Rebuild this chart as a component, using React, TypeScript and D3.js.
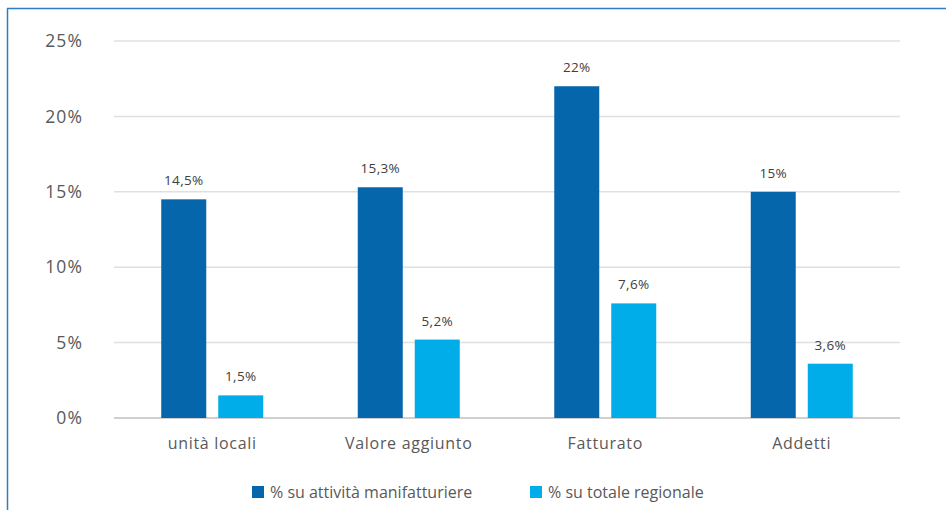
import React from "react";
import * as d3 from "d3";

const categories = ["unità locali", "Valore aggiunto", "Fatturato", "Addetti"];
const seriesNames = ["% su attività manifatturiere", "% su totale regionale"];
const manifatturiere = [14.5, 15.3, 22, 15];
const regionale = [1.5, 5.2, 7.6, 3.6];
const labelsManif = ["14,5%", "15,3%", "22%", "15%"];
const labelsReg = ["1,5%", "5,2%", "7,6%", "3,6%"];
const yTicks = [0, 5, 10, 15, 20, 25];

const colors = ["#0566AC", "#00ADE8"];
const font = "'Open Sans', 'Liberation Sans', sans-serif";

export default function App() {
  const W = 946, H = 510;
  const left = 114, right = 900, top = 41, bottom = 418;
  const x = d3.scaleBand<string>().domain(categories).range([left, right]).paddingInner(0).paddingOuter(0);
  const y = d3.scaleLinear().domain([0, 25]).range([bottom, top]);
  const barW = 45, gap = 12;
  const series = [manifatturiere, regionale];
  const labels = [labelsManif, labelsReg];

  return (
    <svg width={W} height={H} style={{ position: "absolute", left: 0, top: 0, background: "#fff" }}>
      <rect x={0} y={0} width={W} height={H} fill="#fff" />
      <line x1={7.5} x2={7.5} y1={8.5} y2={H} stroke="#2E7DC0" strokeWidth={1.5} />
      <line x1={7} x2={W} y1={8.5} y2={8.5} stroke="#2E7DC0" strokeWidth={1.5} />
      {yTicks.map((t) => (
        <g key={t}>
          <line x1={left} x2={right} y1={y(t)} y2={y(t)} stroke={t === 0 ? "#D0D0D0" : "#E0E0E0"} strokeWidth={t === 0 ? 2 : 1.5} />
          <text x={83} y={y(t)} dy="0.35em" textAnchor="end" fontFamily={font} fontSize={17.5} letterSpacing={1.1} fill="#595959">
            {t}%
          </text>
        </g>
      ))}
      {categories.map((c, i) => {
        const cx = (x(c) as number) + x.bandwidth() / 2;
        return (
          <g key={c}>
            {series.map((s, j) => {
              const bx = j === 0 ? cx - gap / 2 - barW : cx + gap / 2;
              return (
                <g key={j}>
                  <rect x={bx} y={y(s[i])} width={barW} height={bottom - y(s[i])} fill={colors[j]} />
                  <text x={bx + barW / 2} y={y(s[i]) - 14} textAnchor="middle" fontFamily={font} fontSize={13.5} letterSpacing={0.3} fill="#404040">
                    {labels[j][i]}
                  </text>
                </g>
              );
            })}
            <text x={cx} y={449} textAnchor="middle" fontFamily={font} fontSize={16} letterSpacing={0.7} fill="#595959">
              {c}
            </text>
          </g>
        );
      })}
      {seriesNames.map((n, j) => {
        const lx = j === 0 ? 252 : 530;
        return (
          <g key={n}>
            <rect x={lx} y={486} width={12} height={12} fill={colors[j]} />
            <text x={lx + 18} y={498} fontFamily={font} fontSize={16} fill="#595959">
              {n}
            </text>
          </g>
        );
      })}
    </svg>
  );
}
